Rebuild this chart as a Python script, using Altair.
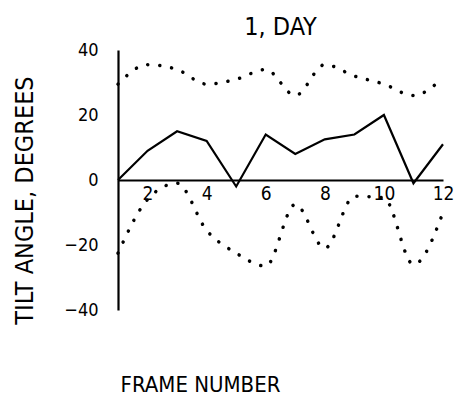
import altair as alt
import pandas as pd

frames = [1, 2, 3, 4, 5, 6, 7, 8, 9, 10, 11, 12]
mean_tilt = [0, 9, 15, 12, -2, 14, 8, 12.5, 14, 20, -1, 11]
upper_tilt = [29.5, 35.5, 34, 29.5, 31, 34, 26, 35.5, 32, 29.5, 26, 31.5]
lower_tilt = [-22.5, -6, -1, -15.5, -22.5, -26.5, -7.5, -21, -5, -5.5, -26, -10]
x_ticks = [2, 4, 6, 8, 10, 12]
y_ticks = [-40, -20, 0, 20, 40]

df = pd.DataFrame({"frame": frames, "mean": mean_tilt,
                   "upper": upper_tilt, "lower": lower_tilt})

FONT = "DejaVu Sans Condensed, Liberation Sans Narrow, DejaVu Sans"

x_axis = alt.Axis(values=x_ticks, ticks=False, grid=False, offset=-130,
                  domainColor="black", domainWidth=2.2,
                  labelFont=FONT, labelFontSize=19, labelColor="black",
                  labelPadding=4, labelFlush=False,
                  title="FRAME NUMBER", titleFont=FONT, titleFontSize=22,
                  titleFontWeight="normal", titleColor="black",
                  titleX=82, titleY=204, titleBaseline="middle",
                  titleAlign="center")

y_axis = alt.Axis(values=y_ticks, ticks=False, grid=False,
                  domainColor="black", domainWidth=2.2,
                  labelFont=FONT, labelFontSize=18, labelColor="black",
                  labelPadding=20, labelFlush=False,
                  title="TILT ANGLE,  DEGREES", titleFont=FONT,
                  titleFontSize=25, titleFontWeight="normal",
                  titleColor="black", titleAngle=270,
                  titleX=-94, titleY=150, titleBaseline="middle",
                  titleAlign="center")

x_scale = alt.Scale(domain=[1, 12], nice=False, zero=False)
y_scale = alt.Scale(domain=[-40, 40], nice=False)

solid = alt.Chart(df).mark_line(color="black", strokeWidth=2.2).encode(
    x=alt.X("frame:Q", scale=x_scale, axis=x_axis),
    y=alt.Y("mean:Q", scale=y_scale, axis=y_axis))

upper = alt.Chart(df).mark_line(color="black", strokeWidth=3.5, strokeDash=[0.1, 12],
                                strokeCap="round", interpolate="monotone").encode(
    x="frame:Q", y="upper:Q")

lower = alt.Chart(df).mark_line(color="black", strokeWidth=3.5, strokeDash=[0.1, 12],
                                strokeCap="round", interpolate="monotone").encode(
    x="frame:Q", y="lower:Q")

chart = alt.layer(solid, upper, lower).properties(
    width=325, height=260,
    background="white",
    title=alt.TitleParams("1, DAY", font=FONT, fontSize=25, fontWeight="normal",
                          color="black", anchor="middle", frame="group", offset=1),
    autosize=alt.AutoSizeParams(type="none"),
    padding={"left": 110, "top": 42, "right": 12, "bottom": 85},
).configure_view(stroke=None)

chart.save("out.html", embed_options={"renderer": "svg", "actions": False})
